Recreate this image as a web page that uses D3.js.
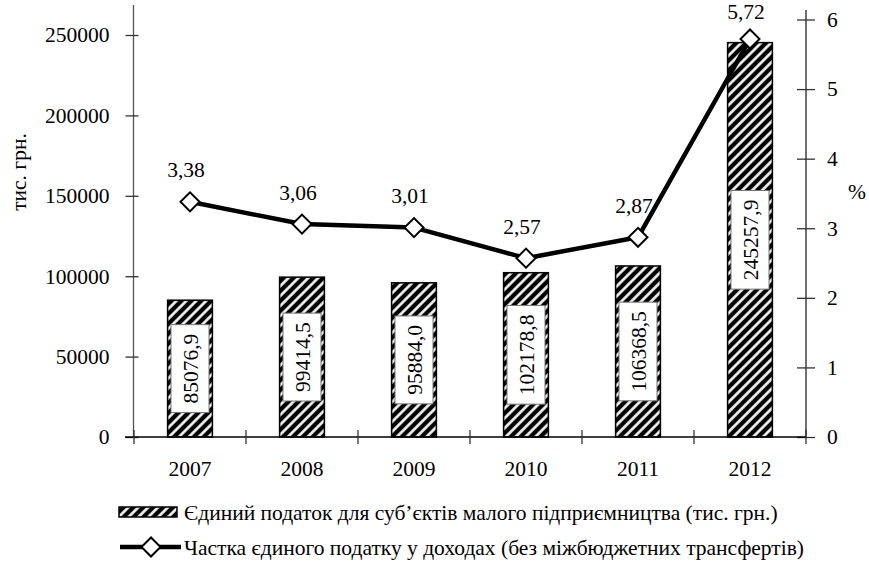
<html>
<script src="https://d3js.org/d3.v7.min.js"></script>
<style>
  body { margin: 0; background: #fff; }
  svg text { font-family: "Liberation Serif", "DejaVu Serif", serif !important; fill: #000; }
</style>
<body>
<svg width="869" height="566"></svg>
<script>
const years = ["2007", "2008", "2009", "2010", "2011", "2012"];
const taxValues = [85076.9, 99414.5, 95884.0, 102178.8, 106368.5, 245257.9];
const sharePct = [3.38, 3.06, 3.01, 2.57, 2.87, 5.72];
const leftTicks = [0, 50000, 100000, 150000, 200000, 250000];
const rightTicks = [0, 1, 2, 3, 4, 5, 6];
const legendBar = "Єдиний податок для суб’єктів малого підприємництва (тис. грн.)";
const legendLine = "Частка єдиного податку у доходах (без міжбюджетних трансфертів)";

const fmt = v => v.toFixed(1).replace(".", ",");
const fmt2 = v => v.toFixed(2).replace(".", ",");

const svg = d3.select("svg");
const fs = 21.5;
const serif = "'Liberation Serif', 'DejaVu Serif', serif";

const x = d3.scaleBand().domain(years).range([134, 806]).paddingInner(0.6).paddingOuter(0.3);
const yL = d3.scaleLinear().domain([0, 250000]).range([437, 35]);
const yR = d3.scaleLinear().domain([0, 6]).range([437, 19.5]);

// hatch pattern
const defs = svg.append("defs");
const pat = defs.append("pattern").attr("id", "hatch")
  .attr("patternUnits", "userSpaceOnUse").attr("width", 7).attr("height", 7)
  .attr("patternTransform", "rotate(45)");
pat.append("rect").attr("width", 7).attr("height", 7).attr("fill", "#000");
pat.append("line").attr("x1", 1.5).attr("y1", 0).attr("x2", 1.5).attr("y2", 7)
  .attr("stroke", "#fff").attr("stroke-width", 2.6);

// axes lines
svg.append("line").attr("x1", 133.5).attr("x2", 133.5).attr("y1", 5).attr("y2", 437)
  .attr("stroke", "#555").attr("stroke-width", 1.3);
svg.append("line").attr("x1", 806).attr("x2", 806).attr("y1", 10).attr("y2", 437)
  .attr("stroke", "#222").attr("stroke-width", 1.3);

// left axis
const gl = svg.append("g").attr("transform", "translate(133.5,0)")
  .call(d3.axisLeft(yL).tickValues(leftTicks).tickSize(8).tickPadding(16).tickFormat(d3.format("d")));
gl.attr("font-family", serif);
gl.select(".domain").remove();
gl.selectAll(".tick line").attr("x1", 5).attr("stroke", "#333").attr("stroke-width", 1.3);
gl.selectAll(".tick text").style("font-size", fs + "px");

// right axis
const gr = svg.append("g").attr("transform", "translate(806,0)")
  .call(d3.axisRight(yR).tickValues(rightTicks).tickSize(9).tickPadding(12).tickFormat(d3.format("d")));
gr.attr("font-family", serif);
gr.select(".domain").remove();
gr.selectAll(".tick line").attr("x1", -9).attr("stroke", "#333").attr("stroke-width", 1.3);
gr.selectAll(".tick text").style("font-size", fs + "px");

// bars
svg.append("g").selectAll("rect").data(taxValues).join("rect")
  .attr("x", (d, i) => x(years[i]))
  .attr("y", d => yL(d))
  .attr("width", x.bandwidth())
  .attr("height", d => yL(0) - yL(d))
  .attr("fill", "url(#hatch)")
  .attr("stroke", "#000").attr("stroke-width", 1.5);

// bar value labels (white boxes, rotated text)
const lab = svg.append("g").selectAll("g").data(taxValues).join("g")
  .attr("transform", (d, i) => "translate(" + (x(years[i]) + x.bandwidth() / 2) + "," + ((yL(d) + yL(0)) / 2) + ")");
lab.append("text")
  .attr("transform", "rotate(-90)")
  .attr("text-anchor", "middle").attr("dy", "0.35em")
  .style("font-size", fs + "px")
  .text(d => fmt(d))
  .each(function () {
    const b = this.getBBox();
    d3.select(this.parentNode).insert("rect", "text")
      .attr("x", -19).attr("y", -b.width / 2 - 9)
      .attr("width", 38).attr("height", b.width + 18)
      .attr("fill", "#fff").attr("stroke", "#777").attr("stroke-width", 1);
  });

// x axis
svg.append("line").attr("x1", 125).attr("x2", 806).attr("y1", 437).attr("y2", 437)
  .attr("stroke", "#000").attr("stroke-width", 1.3);
const bounds = years.map(y => x(y) - x.step() * x.paddingInner() / 2).concat([806]);
svg.append("g").selectAll("line").data(bounds).join("line")
  .attr("x1", d => d).attr("x2", d => d).attr("y1", 430).attr("y2", 444)
  .attr("stroke", "#333").attr("stroke-width", 1.3);
svg.append("g").selectAll("text").data(years).join("text")
  .attr("x", d => x(d) + x.bandwidth() / 2).attr("y", 476)
  .attr("text-anchor", "middle").style("font-size", fs + "px").text(d => d);

// line series
const cx = i => x(years[i]) + x.bandwidth() / 2;
svg.append("path").datum(sharePct)
  .attr("d", d3.line().x((d, i) => cx(i)).y(d => yR(d)))
  .attr("fill", "none").attr("stroke", "#000").attr("stroke-width", 4.5)
  .attr("stroke-linejoin", "round");
const diamond = d3.symbol().type(d3.symbolSquare).size(180);
svg.append("g").selectAll("path").data(sharePct).join("path")
  .attr("d", diamond)
  .attr("transform", (d, i) => "translate(" + cx(i) + "," + yR(d) + ") rotate(45)")
  .attr("fill", "#fff").attr("stroke", "#000").attr("stroke-width", 2);
svg.append("g").selectAll("text").data(sharePct).join("text")
  .attr("x", (d, i) => cx(i) - 4).attr("y", d => Math.max(yR(d) - 32, 11))
  .attr("text-anchor", "middle").attr("dy", "0.35em")
  .style("font-size", fs + "px").text(d => fmt2(d));

// axis titles
svg.append("text").attr("transform", "translate(18,172) rotate(-90)")
  .attr("text-anchor", "middle").attr("dy", "0.35em").style("font-size", fs + "px").text("тис. грн.");
svg.append("text").attr("x", 857).attr("y", 191).attr("text-anchor", "middle").attr("dy", "0.35em")
  .style("font-size", fs + "px").text("%");

// legend
svg.append("rect").attr("x", 119).attr("y", 507).attr("width", 58).attr("height", 10)
  .attr("fill", "url(#hatch)").attr("stroke", "#000").attr("stroke-width", 1.5);
svg.append("text").attr("x", 184).attr("y", 512).attr("dy", "0.35em")
  .style("font-size", fs + "px").text(legendBar);
svg.append("line").attr("x1", 120).attr("x2", 181).attr("y1", 547).attr("y2", 547)
  .attr("stroke", "#000").attr("stroke-width", 4.5);
svg.append("path").attr("d", diamond)
  .attr("transform", "translate(151,547) rotate(45)")
  .attr("fill", "#fff").attr("stroke", "#000").attr("stroke-width", 2);
svg.append("text").attr("x", 184).attr("y", 547).attr("dy", "0.35em")
  .style("font-size", fs + "px").text(legendLine);
</script>
</body>
</html>
